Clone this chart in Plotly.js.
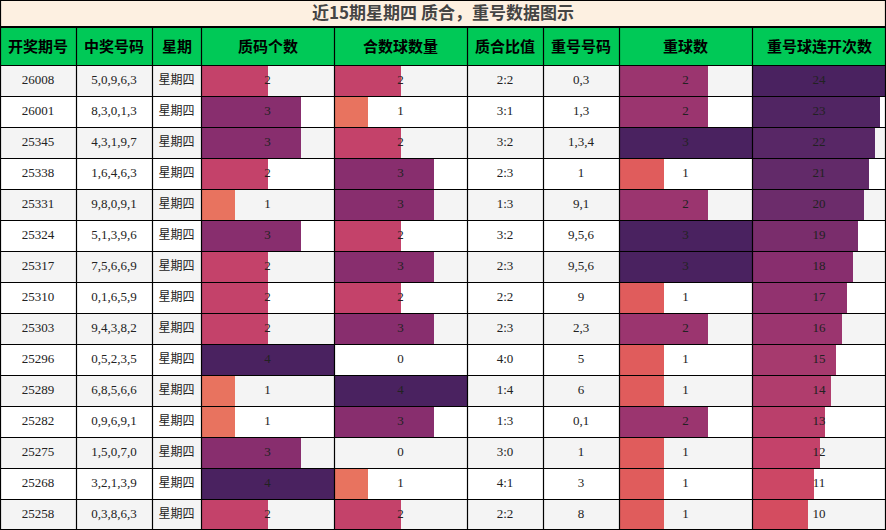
<!DOCTYPE html>
<html>
<head>
<meta charset="utf-8">
<script src="https://cdn.plot.ly/plotly-3.0.1.min.js"></script>
<style>
  html, body { margin: 0; padding: 0; background: #fff; }
  #chart { width: 886px; height: 530px; }
</style>
</head>
<body>
<div id="chart"></div>
<script>
// ---- data ----
const headers = ["开奖期号", "中奖号码", "星期", "质码个数", "合数球数量", "质合比值", "重号号码", "重球数", "重号球连开次数"];
const periods = ["26008", "26001", "25345", "25338", "25331", "25324", "25317", "25310", "25303", "25296", "25289", "25282", "25275", "25268", "25258"];
const drawNumbers = ["5,0,9,6,3", "8,3,0,1,3", "4,3,1,9,7", "1,6,4,6,3", "9,8,0,9,1", "5,1,3,9,6", "7,5,6,6,9", "0,1,6,5,9", "9,4,3,8,2", "0,5,2,3,5", "6,8,5,6,6", "0,9,6,9,1", "1,5,0,7,0", "3,2,1,3,9", "0,3,8,6,3"];
const weekdays = ["星期四", "星期四", "星期四", "星期四", "星期四", "星期四", "星期四", "星期四", "星期四", "星期四", "星期四", "星期四", "星期四", "星期四", "星期四"];
const primeCount = [2, 3, 3, 2, 1, 3, 2, 2, 2, 4, 1, 1, 3, 4, 2];
const compositeCount = [2, 1, 2, 3, 3, 2, 3, 2, 3, 0, 4, 3, 0, 1, 2];
const ratios = ["2:2", "3:1", "3:2", "2:3", "1:3", "3:2", "2:3", "2:2", "2:3", "4:0", "1:4", "1:3", "3:0", "4:1", "2:2"];
const repeatNumbers = ["0,3", "1,3", "1,3,4", "1", "9,1", "9,5,6", "9,5,6", "9", "2,3", "5", "6", "0,1", "1", "3", "8"];
const repeatCount = [2, 2, 3, 1, 2, 3, 3, 1, 2, 1, 1, 2, 1, 1, 1];
const streakCount = [24, 23, 22, 21, 20, 19, 18, 17, 16, 15, 14, 13, 12, 11, 10];
const titleText = "近15期星期四 质合，重号数据图示";

// ---- layout constants ----
const W = 886, H = 530;
const colEdges = [0, 76, 152, 201, 334, 467, 543, 619, 752, 886];
const titleBottom = 27, headerBottom = 65, rowH = 31;
const nRows = periods.length;
const rows = periods.map((_, i) => i);

const cellFont = { family: "Liberation Serif, Noto Sans CJK SC, serif", size: 13, color: "#222" };
const weekFont = { family: "Noto Sans CJK SC, sans-serif", size: 12, color: "#222" };
const flare = [
  [0, "#f3b58a"], [0.25, "#e8735f"], [0.333, "#e05c5c"], [0.417, "#d44c60"],
  [0.5, "#c4426a"], [0.625, "#a63a6e"], [0.667, "#9b356f"], [0.75, "#882e6e"],
  [0.833, "#6c2c6b"], [0.917, "#582766"], [1, "#4a2260"]
];

const px = (x) => x / W;
const py = (y) => 1 - y / H;
const center = (c) => (colEdges[c] + colEdges[c + 1]) / 2;

// ---- traces ----
const traces = [];

// bar columns: [column index, values, max, axis]
const barCols = [
  [3, primeCount, 4, "x2"],
  [4, compositeCount, 4, "x3"],
  [7, repeatCount, 3, "x4"],
  [8, streakCount, 24, "x5"]
];

barCols.forEach(([c, vals, max, ax]) => {
  traces.push({
    type: "bar",
    orientation: "h",
    x: vals,
    y: rows,
    width: 1,
    xaxis: ax,
    yaxis: "y",
    marker: {
      color: vals,
      colorscale: flare,
      cmin: 0,
      cmax: max,
      line: { width: 0 }
    },
    hoverinfo: "skip",
    showlegend: false
  });
});

// text columns (on the top-most subplot so they sit above the bars)
const textCols = [periods, drawNumbers, weekdays, primeCount, compositeCount, ratios, repeatNumbers, repeatCount, streakCount];
textCols.forEach((vals, c) => {
  traces.push({
    type: "scatter",
    mode: "text",
    x: rows.map(() => center(c)),
    y: rows,
    text: vals.map(String),
    textfont: c === 2 ? weekFont : cellFont,
    textposition: "middle center",
    xaxis: "x6",
    yaxis: "y",
    hoverinfo: "skip",
    showlegend: false,
    cliponaxis: false
  });
});

// ---- shapes ----
const shapes = [];

// title band and header band
shapes.push({ type: "rect", xref: "paper", yref: "paper", x0: 0, x1: 1, y0: py(titleBottom), y1: 1,
  fillcolor: "#fdf0e1", line: { width: 0 }, layer: "below" });
shapes.push({ type: "rect", xref: "paper", yref: "paper", x0: 0, x1: 1, y0: py(headerBottom), y1: py(titleBottom),
  fillcolor: "#00c957", line: { width: 0 }, layer: "below" });

// row stripes
rows.forEach((i) => {
  shapes.push({ type: "rect", xref: "paper", yref: "y", x0: 0, x1: 1, y0: i - 0.5, y1: i + 0.5,
    fillcolor: i % 2 === 0 ? "#f4f4f4" : "#ffffff", line: { width: 0 }, layer: "below" });
});

// vertical grid lines
colEdges.forEach((e, k) => {
  let x = e + 0.5;
  if (k === colEdges.length - 1) x = W - 0.5;
  shapes.push({ type: "line", xref: "paper", yref: "paper", x0: px(x), x1: px(x),
    y0: 0, y1: py(titleBottom), line: { color: "#000", width: 1.2 }, layer: "above" });
});
// title box sides
[0.5, W - 0.5].forEach((x) => {
  shapes.push({ type: "line", xref: "paper", yref: "paper", x0: px(x), x1: px(x),
    y0: py(titleBottom), y1: 1, line: { color: "#000", width: 1.2 }, layer: "above" });
});

// horizontal grid lines
const hLines = [[0.5, 1], [titleBottom, 2], [headerBottom + 0.5, 1]];
for (let i = 1; i <= nRows; i++) hLines.push([headerBottom + rowH * i + 0.5, 1]);
hLines[hLines.length - 1][0] = H - 0.5;
hLines.forEach(([y, w]) => {
  shapes.push({ type: "line", xref: "paper", yref: "paper", x0: 0, x1: 1, y0: py(y), y1: py(y),
    line: { color: "#000", width: w }, layer: "above" });
});

// ---- header annotations ----
const annotations = headers.map((h, c) => ({
  text: h,
  xref: "paper", yref: "paper",
  x: px(center(c)), y: py((titleBottom + headerBottom) / 2),
  xanchor: "center", yanchor: "middle",
  showarrow: false,
  font: { family: "Noto Sans CJK SC, sans-serif", size: 15, color: "#000", weight: "bold" }
}));

// ---- axes ----
const hidden = { showgrid: false, zeroline: false, showticklabels: false, showline: false, ticks: "", fixedrange: true };
const barAxis = (c, max) => Object.assign({}, hidden, {
  domain: [px(colEdges[c] + 1), px(colEdges[c + 1])],
  range: [0, max],
  anchor: "y"
});

const layout = {
  width: W,
  height: H,
  margin: { l: 0, r: 0, t: 0, b: 0 },
  paper_bgcolor: "#ffffff",
  plot_bgcolor: "rgba(0,0,0,0)",
  showlegend: false,
  bargap: 0,
  title: {
    text: titleText,
    x: 0.5, xanchor: "center",
    y: py(titleBottom / 2), yanchor: "middle",
    font: { family: "Noto Sans CJK SC, sans-serif", size: 17, color: "#444", weight: "bold" }
  },
  xaxis: Object.assign({}, hidden, { domain: [0, 1], range: [0, W], anchor: "y" }),
  xaxis2: barAxis(3, 4),
  xaxis3: barAxis(4, 4),
  xaxis4: barAxis(7, 3),
  xaxis5: barAxis(8, 24),
  xaxis6: Object.assign({}, hidden, { domain: [0, 1], range: [0, W], anchor: "y" }),
  yaxis: Object.assign({}, hidden, { domain: [0, py(headerBottom)], range: [nRows - 0.5, -0.5] }),
  shapes: shapes,
  annotations: annotations
};

Plotly.newPlot("chart", traces, layout, { staticPlot: true, displayModeBar: false });
</script>
</body>
</html>
